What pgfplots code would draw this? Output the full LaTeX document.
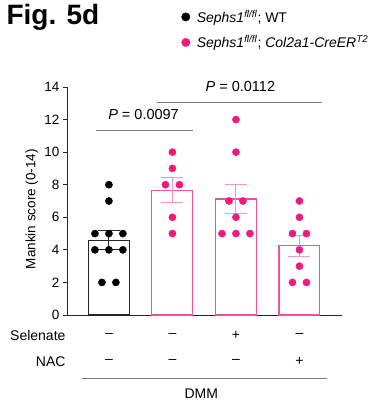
\documentclass[border=0pt]{standalone}
\usepackage{fontspec}
\setmainfont{Liberation Sans}
\usepackage{pgfplots}
\pgfplotsset{compat=1.18}
\definecolor{dotpink}{RGB}{240,25,125}
\definecolor{barpink}{RGB}{232,85,155}
\definecolor{errpink}{RGB}{246,150,196}
\definecolor{siggray}{RGB}{125,125,125}
\newcommand{\fs}{\fontsize{14}{16}\selectfont}
\begin{document}
\begin{tikzpicture}
\useasboundingbox (0pt,0pt) rectangle (377pt,403pt);
\begin{axis}[
  at={(67pt,88pt)}, anchor=south west,
  scale only axis, width=275pt, height=228pt,
  xmin=-0.66, xmax=3.67, ymin=0, ymax=14,
  axis x line*=bottom, axis y line*=left,
  axis line style={-, black!85, line width=0.9pt},
  xtick=\empty, ytick={0,2,...,14},
  tick align=outside, major tick length=4pt,
  tick style={black!85, line width=0.9pt},
  yticklabel style={font=\fontsize{13.5}{15}\selectfont},
  /pgf/number format/assume math mode=true,
  clip=false,
  legend style={at={(0.405,1.356)}, anchor=north west, draw=none, fill=none,
    font=\fs, row sep=7.7pt, legend cell align=left},
  legend image code/.code={\draw[#1, mark size=4.2pt] plot coordinates {(0pt,0pt)}; \path[draw=none, fill=none] (0pt,0pt) (9pt,0pt);},
]
\addplot[ybar, bar width=0.645, bar shift=0pt, draw=black!85, fill=white, line width=1.1pt, forget plot,
  error bars/.cd, y dir=both, y explicit,
  error bar style={black!85, line width=1.1pt},
  error mark options={rotate=90, mark size=11pt, line width=1.1pt, black!85}]
  coordinates {(0,4.6) +- (0,0.6)};
\addplot[ybar, bar width=0.645, bar shift=0pt, draw=barpink, fill=white, line width=1.1pt, forget plot,
  error bars/.cd, y dir=both, y explicit,
  error bar style={errpink, line width=1.1pt},
  error mark options={rotate=90, mark size=11pt, line width=1.1pt, errpink}]
  coordinates {(1,7.67) +- (0,0.76)};
\addplot[ybar, bar width=0.645, bar shift=0pt, draw=barpink, fill=white, line width=1.1pt, forget plot,
  error bars/.cd, y dir=both, y explicit,
  error bar style={errpink, line width=1.1pt},
  error mark options={rotate=90, mark size=11pt, line width=1.1pt, errpink}]
  coordinates {(2,7.125) +- (0,0.915)};
\addplot[ybar, bar width=0.645, bar shift=0pt, draw=barpink, fill=white, line width=1.1pt, forget plot,
  error bars/.cd, y dir=both, y explicit,
  error bar style={errpink, line width=1.1pt},
  error mark options={rotate=90, mark size=11pt, line width=1.1pt, errpink}]
  coordinates {(3,4.25) +- (0,0.65)};
\addplot[only marks, mark=*, mark size=3.6pt, black, mark options={draw=none, fill=black}]
  coordinates {(0,8) (0,7) (-0.22,5) (0,5) (0.22,5) (-0.22,4) (0,4) (0.22,4) (-0.11,2) (0.11,2)};
\addlegendentry{\textit{Sephs1}\textsuperscript{\textit{fl/fl}}; WT}
\addplot[only marks, mark=*, mark size=3.6pt, dotpink, mark options={draw=none, fill=dotpink}]
  coordinates {(1,10) (1,9) (0.89,8) (1.11,8) (1,6) (1,5)
               (2,12) (2,10) (1.89,7) (2.11,7) (2,6) (1.78,5) (2,5) (2.22,5)
               (3,7) (3,6) (2.89,5) (3.11,5) (3,4) (3,3) (2.89,2) (3.11,2)};
\addlegendentry{\textit{Sephs1}\textsuperscript{\textit{fl/fl}}; \textit{Col2a1-CreER}\textsuperscript{\textit{T2}}}
\draw[siggray, line width=1pt] (axis cs:-0.205,11.31) -- (axis cs:1.33,11.31);
\node[font=\fontsize{14.5}{16}\selectfont] at (axis cs:0.545,12.3) {\textit{P} = 0.0097};
\draw[siggray, line width=1pt] (axis cs:0.756,13.03) -- (axis cs:3.35,13.03);
\node[font=\fontsize{14.5}{16}\selectfont] at (axis cs:2.07,14.02) {\textit{P} = 0.0112};
\end{axis}
\node[anchor=base west, font=\fontsize{28}{32}\selectfont\bfseries] at (3pt,378pt) {Fig. 5d};
\node[rotate=90, font=\fontsize{13.5}{15}\selectfont] at (32pt,194pt) {Mankin score (0-14)};
\node[anchor=east, font=\fs] at (69pt,68pt) {Selenate};
\node[anchor=east, font=\fs] at (69pt,41.3pt) {NAC};
\foreach \x/\a/\b in {108.9/–/–, 172.4/–/–, 235.9/+/–, 299.4/–/+} {
  \node[font=\fs] at (\x pt,68pt) {\a};
  \node[font=\fs] at (\x pt,41.3pt) {\b};
}
\draw[siggray, line width=1pt] (82.3pt,24.3pt) -- (326.7pt,24.3pt);
\node[font=\fs] at (201.3pt,9.7pt) {DMM};
\end{tikzpicture}
\end{document}
